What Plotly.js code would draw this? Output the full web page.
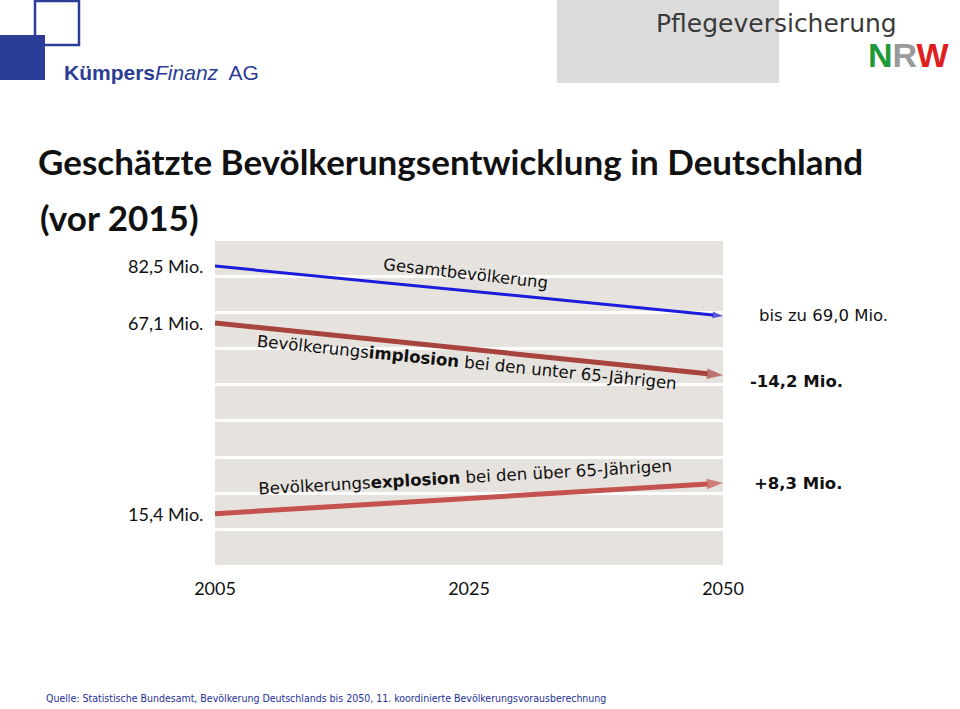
<!DOCTYPE html>
<html>
<head>
<meta charset="utf-8">
<script src="https://cdn.plot.ly/plotly-3.0.1.min.js"></script>
<style>html,body{margin:0;padding:0;background:#fff;}#chart{width:960px;height:709px;}</style>
</head>
<body>
<div id="chart"></div>
<script>
// ---- data ----
var years = ["2005", "2025", "2050"];
var arrowYears = ["2005", "2050"];
var total = [82.5, 69.0];          // Gesamtbevölkerung (Mio.)
var under65 = [67.1, 52.9];        // unter 65-Jährige (Mio.)
var over65 = [15.4, 23.7];         // über 65-Jährige (Mio.)
var seriesNames = ["Gesamtbevölkerung", "unter 65-Jährige", "über 65-Jährige"];

// ---- helpers ----
var L = 215, R = 723, T = 241, B = 565;
function px(x) { return (x - L) / (R - L); }
function py(y) { return 1 - (y - T) / (B - T); }
function fmt(v) { return v.toFixed(1).replace('.', ','); }
function fmtSigned(v) { return (v > 0 ? '+' : '-') + fmt(Math.abs(v)); }

function arrowTrace(name, xs, ys, color, width, size) {
  return {
    type: 'scatter', mode: 'lines+markers', name: name,
    x: xs, y: ys,
    line: { color: color, width: width },
    marker: { symbol: ['circle', 'arrow'], size: [0, size], color: color, angleref: 'previous', line: { width: 0 } },
    hoverinfo: 'skip', cliponaxis: false
  };
}

var traces = [
  arrowTrace(seriesNames[0], arrowYears, total, '#1c1cdc', 3, 11),
  arrowTrace(seriesNames[1], arrowYears, under65, '#a8443e', 5, 17),
  arrowTrace(seriesNames[2], arrowYears, over65, '#c4534f', 5, 17)
];

var labFont = { family: 'Lato, "Liberation Sans", sans-serif', size: 18, color: '#111' };
var tahoma = 'DejaVu Sans, Verdana, sans-serif';

var annotations = [
  // second title line
  { xref: 'paper', yref: 'paper', x: px(38), y: py(217), xanchor: 'left', yanchor: 'middle', showarrow: false,
    text: '<b>(vor 2015)</b>', font: { family: 'Lato, sans-serif', size: 35, color: '#111' } },
  // left start labels
  { xref: 'paper', yref: 'y', x: px(205), y: total[0], xanchor: 'right', yanchor: 'middle', showarrow: false, text: fmt(total[0]) + ' Mio.', font: labFont },
  { xref: 'paper', yref: 'y', x: px(205), y: under65[0], xanchor: 'right', yanchor: 'middle', showarrow: false, text: fmt(under65[0]) + ' Mio.', font: labFont },
  { xref: 'paper', yref: 'y', x: px(205), y: over65[0], xanchor: 'right', yanchor: 'middle', showarrow: false, text: fmt(over65[0]) + ' Mio.', font: labFont },
  // right end labels
  { xref: 'paper', yref: 'y', x: px(757), y: total[1], xanchor: 'left', yanchor: 'middle', showarrow: false,
    text: 'bis zu ' + fmt(total[1]) + ' Mio.', font: { family: tahoma, size: 16.5, color: '#111' } },
  { xref: 'paper', yref: 'y', x: px(748), y: under65[1], yshift: -6, xanchor: 'left', yanchor: 'middle', showarrow: false,
    text: '<b>' + fmtSigned(under65[1] - under65[0]) + ' Mio.</b>', font: { family: tahoma, size: 16.5, color: '#111' } },
  { xref: 'paper', yref: 'y', x: px(752), y: over65[1], xanchor: 'left', yanchor: 'middle', showarrow: false,
    text: '<b>' + fmtSigned(over65[1] - over65[0]) + ' Mio.</b>', font: { family: tahoma, size: 16.5, color: '#111' } },
  // rotated line labels
  { xref: 'paper', yref: 'paper', x: px(465), y: py(273), xanchor: 'center', yanchor: 'middle', showarrow: false, textangle: 6.5,
    text: 'Gesamtbevölkerung', font: { family: tahoma, size: 16.4, color: '#111' } },
  { xref: 'paper', yref: 'paper', x: px(467), y: py(362), xanchor: 'center', yanchor: 'middle', showarrow: false, textangle: 5.8,
    text: 'Bevölkerungs<b>implosion</b> bei den unter 65-Jährigen', font: { family: tahoma, size: 16.6, color: '#111' } },
  { xref: 'paper', yref: 'paper', x: px(465), y: py(477), xanchor: 'center', yanchor: 'middle', showarrow: false, textangle: -3.2,
    text: 'Bevölkerungs<b>explosion</b> bei den über 65-Jährigen', font: { family: tahoma, size: 16.6, color: '#111' } },
  // source
  { xref: 'paper', yref: 'paper', x: px(44), y: py(698), xanchor: 'left', yanchor: 'middle', showarrow: false,
    text: 'Quelle: Statistische Bundesamt, Bevölkerung Deutschlands bis 2050, 11. koordinierte Bevölkerungsvorausberechnung',
    font: { family: '"DejaVu Sans Condensed", "Liberation Sans Narrow", sans-serif', size: 10.5, color: '#1f2f9a' } },
  // logos
  { xref: 'paper', yref: 'paper', x: px(62), y: py(72), xanchor: 'left', yanchor: 'middle', showarrow: false,
    text: '<b>Kümpers</b><i>Finanz</i>  AG', font: { family: 'Liberation Sans, Arial, sans-serif', size: 21, color: '#2b3d96' } },
  { xref: 'paper', yref: 'paper', x: px(654), y: py(23), xanchor: 'left', yanchor: 'middle', showarrow: false,
    text: 'Pflegeversicherung', font: { family: 'DejaVu Sans, sans-serif', size: 25, color: '#3a3a3a' } },
  { xref: 'paper', yref: 'paper', x: px(866), y: py(55), xanchor: 'left', yanchor: 'middle', showarrow: false,
    text: '<b><span style="color:#1e9a3c">N</span><span style="color:#9a9a9a">R</span><span style="color:#e01e1e">W</span></b>',
    font: { family: 'Liberation Sans, Arial, sans-serif', size: 34, color: '#111' } }
];

var shapes = [
  { type: 'rect', xref: 'paper', yref: 'paper', x0: px(557), x1: px(779), y0: py(0), y1: py(83), fillcolor: '#dcdcdc', line: { width: 0 }, layer: 'below' },
  { type: 'rect', xref: 'paper', yref: 'paper', x0: px(0), x1: px(45), y0: py(35), y1: py(80), fillcolor: '#2b3d96', line: { width: 0 }, layer: 'below' },
  { type: 'rect', xref: 'paper', yref: 'paper', x0: px(35), x1: px(79), y0: py(1), y1: py(45), fillcolor: 'rgba(0,0,0,0)', line: { width: 2.5, color: '#2b3d96' } }
];

var layout = {
  width: 960, height: 709,
  margin: { l: L, r: 960 - R, t: T, b: 709 - B, pad: 0 },
  paper_bgcolor: '#ffffff', plot_bgcolor: '#e6e2de',
  showlegend: false,
  title: { text: '<b>Geschätzte Bevölkerungsentwicklung in Deutschland</b>', x: 38 / 960, xanchor: 'left', xref: 'container',
           y: 1 - 163 / 709, yanchor: 'middle', yref: 'container', font: { family: 'Lato, sans-serif', size: 35, color: '#111' } },
  xaxis: { type: 'category', categoryarray: years, categoryorder: 'array', range: [0, 2], showgrid: false, zeroline: false,
           showline: false, ticks: '', tickfont: labFont, ticklabelstandoff: 11, fixedrange: true },
  yaxis: { range: [1.5, 89.3], tick0: 1.5, dtick: 9.756, showgrid: true, gridcolor: '#ffffff', gridwidth: 3,
           zeroline: false, showline: false, showticklabels: false, ticks: '', fixedrange: true },
  annotations: annotations,
  shapes: shapes
};

// ensure all categories present on axis
traces.push({ type: 'scatter', mode: 'markers', x: years, y: [null, null, null], hoverinfo: 'skip', showlegend: false });

Plotly.newPlot('chart', traces, layout, { displayModeBar: false, staticPlot: true });
</script>
</body>
</html>
